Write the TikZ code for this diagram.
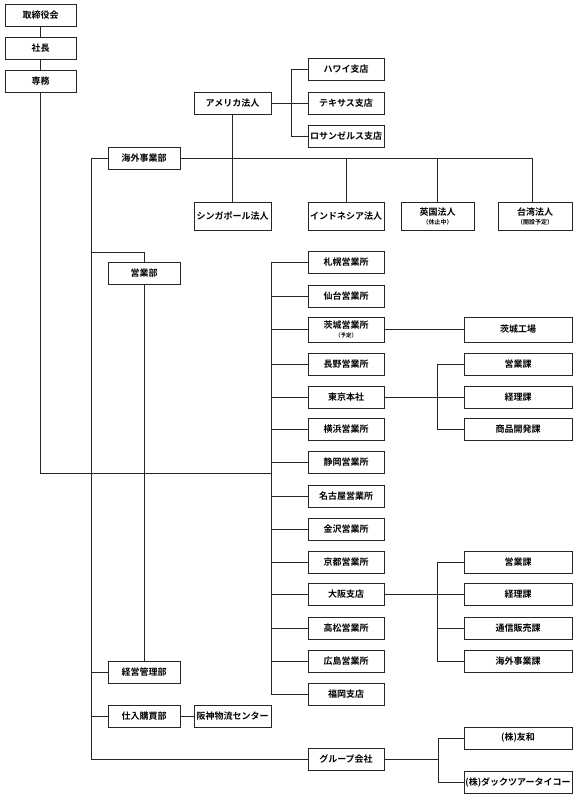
\documentclass[tikz,border=0pt]{standalone}
\usepackage{fontspec}
\newfontfamily\jp[BoldFont={Noto Sans CJK JP Bold}]{Noto Sans CJK JP}
\usetikzlibrary{shadows}
\begin{document}
\begin{tikzpicture}[x=1pt,y=-1pt,
  box/.style={draw=black!85, line width=0.8pt, fill=white, inner sep=0pt,
    minimum height=22pt, align=center,
    font=\jp\bfseries\fontsize{9}{10}\selectfont,
    drop shadow={shadow xshift=0.8pt, shadow yshift=-0.8pt, fill=black!75, opacity=1}},
  wA/.style={minimum width=71pt},
  wB/.style={minimum width=72pt},
  wC/.style={minimum width=77pt},
  wD/.style={minimum width=76pt},
  wE/.style={minimum width=108pt},
  tall/.style={minimum height=28pt},
  mid/.style={minimum height=25pt},
  note/.style={font=\jp\bfseries\fontsize{5.5}{6}\selectfont},
  ln/.style={draw=black!85, line width=0.8pt}]
\useasboundingbox (0,0) rectangle (574,794);
% top
\node[box,wA] (torishimari) at (40.5,15) {取締役会};
\node[box,wA] (shacho) at (40.5,48) {社長};
\node[box,wA] (senmu) at (40.5,81) {専務};
% overseas
\node[box,wB] (kaigai) at (144,158) {海外事業部};
\node[box,wC] (america) at (232.5,103) {アメリカ法人};
\node[box,wD] (hawaii) at (346,69.5) {ハワイ支店};
\node[box,wD] (texas) at (346,103) {テキサス支店};
\node[box,wD] (la) at (346,136) {ロサンゼルス支店};
\node[box,wC,tall] (singapore) at (232.5,216) {シンガポール法人};
\node[box,wD,tall] (indonesia) at (346,216) {インドネシア法人};
\node[box,tall,minimum width=73pt] (eikoku) at (437.5,216) {英国法人\\[-1pt]{\fontsize{6}{7}\selectfont （休止中）}};
\node[box,tall,minimum width=74pt] (taiwan) at (535,216) {台湾法人\\[-1pt]{\fontsize{6}{7}\selectfont （開設予定）}};
% departments
\node[box,wB] (eigyo) at (144,273.5) {営業部};
\node[box,wB] (keiei) at (144,672) {経営管理部};
\node[box,wB] (shiire) at (144,716) {仕入購買部};
\node[box,wC] (hanshin) at (232.5,716) {阪神物流センター};
\node[box,wD] (group) at (346,759) {グループ会社};
% sales offices
\node[box,wD] (sapporo) at (346,262.5) {札幌営業所};
\node[box,wD] (sendai) at (346,296) {仙台営業所};
\node[box,wD,mid] (ibaraki) at (346,329.5) {茨城営業所\\[-1pt]{\fontsize{5.5}{6}\selectfont （予定）}};
\node[box,wD] (nagano) at (346,364) {長野営業所};
\node[box,wD] (tokyo) at (346,397.5) {東京本社};
\node[box,wD] (yokohama) at (346,429.5) {横浜営業所};
\node[box,wD] (shizuoka) at (346,462.5) {静岡営業所};
\node[box,wD] (nagoya) at (346,496) {名古屋営業所};
\node[box,wD] (kanazawa) at (346,529) {金沢営業所};
\node[box,wD] (kyoto) at (346,562.5) {京都営業所};
\node[box,wD] (osaka) at (346,594.5) {大阪支店};
\node[box,wD] (takamatsu) at (346,628) {高松営業所};
\node[box,wD] (hiroshima) at (346,661) {広島営業所};
\node[box,wD] (fukuoka) at (346,694) {福岡支店};
% right column
\node[box,wE,mid] (kojo) at (518,329.5) {茨城工場};
\node[box,wE] (teigyo) at (518,364) {営業課};
\node[box,wE] (tkeiri) at (518,397.5) {経理課};
\node[box,wE] (tshohin) at (518,429.5) {商品開発課};
\node[box,wE] (oeigyo) at (518,562.5) {営業課};
\node[box,wE] (okeiri) at (518,594.5) {経理課};
\node[box,wE] (otsushin) at (518,628) {通信販売課};
\node[box,wE] (okaigai) at (518,661) {海外事業課};
\node[box,wE] (yuwa) at (518,738) {(株)友和};
\node[box,wE] (dak) at (518,782) {(株)ダックツアータイコー};
% bus coordinates
\coordinate (lbus) at (91,0);
\coordinate (rbus) at (271,0);
\coordinate (abus) at (291,0);
\coordinate (tbus) at (437,0);
\coordinate (gbus) at (438,0);
\coordinate (sj) at (0,473);
\coordinate (ej) at (0,252);
\begin{scope}[on background layer/.style={}]
% connectors
\path[ln] (torishimari) -- (shacho);
\path[ln] (shacho) -- (senmu);
\path[ln] (senmu.south) |- (rbus |- sj);
\path[ln] (kaigai.west) -| (lbus |- group) -- (group.west);
\path[ln] (lbus |- ej) -| (eigyo.north);
\path[ln] (eigyo.south) -- (keiei.north);
\path[ln] (keiei.west) -- (lbus |- keiei);
\path[ln] (shiire.west) -- (lbus |- shiire);
\path[ln] (shiire.east) -- (hanshin.west);
\path[ln] (kaigai.east) -| ([xshift=-3pt]taiwan.north);
\path[ln] (america.south) -- (singapore.north);
\path[ln] (indonesia.north) -- (indonesia.north |- kaigai);
\path[ln] (eikoku.north) -- (eikoku.north |- kaigai);
\path[ln] (america.east) -- (texas.west);
\path[ln] (hawaii.west) -| (abus |- la) -- (la.west);
% sales column
\path[ln] (sapporo.west) -| (rbus |- fukuoka) -- (fukuoka.west);
\foreach \n in {sendai,ibaraki,nagano,tokyo,yokohama,shizuoka,nagoya,kanazawa,kyoto,osaka,takamatsu,hiroshima}
  \path[ln] (\n.west) -- (rbus |- \n);
\path[ln] (ibaraki.east) -- (kojo.west);
\path[ln] (tokyo.east) -- (tbus |- tokyo);
\path[ln] (teigyo.west) -| (tbus |- tshohin) -- (tshohin.west);
\path[ln] (tkeiri.west) -- (tbus |- tkeiri);
\path[ln] (osaka.east) -- (tbus |- osaka);
\path[ln] (oeigyo.west) -| (tbus |- okaigai) -- (okaigai.west);
\path[ln] (okeiri.west) -- (tbus |- okeiri);
\path[ln] (otsushin.west) -- (tbus |- otsushin);
\path[ln] (group.east) -- (gbus |- group);
\path[ln] (yuwa.west) -| (gbus |- dak) -- (dak.west);
\end{scope}
\end{tikzpicture}
\end{document}
